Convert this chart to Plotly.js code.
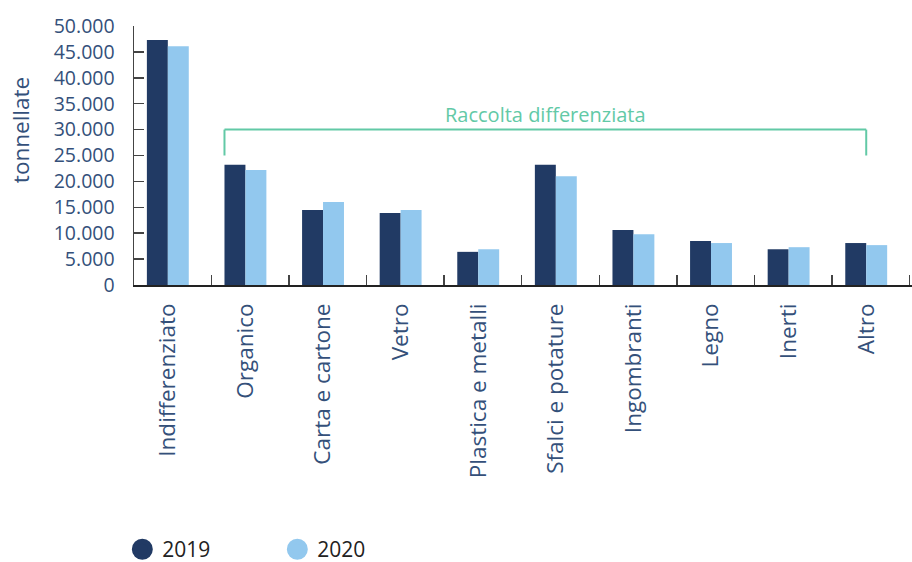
<!DOCTYPE html>
<html>
<head>
<meta charset="utf-8">
<script src="https://cdn.plot.ly/plotly-3.0.1.min.js"></script>
<style>html,body{margin:0;padding:0;background:#fff;}#chart{width:912px;height:562px;}</style>
</head>
<body>
<div id="chart"></div>
<script>
const categories = ["Indifferenziato","Organico","Carta e cartone","Vetro","Plastica e metalli","Sfalci e potature","Ingombranti","Legno","Inerti","Altro"];
const values2019 = [47300,23200,14500,13900,6400,23200,10600,8500,6900,8100];
const values2020 = [46100,22200,16000,14500,6900,21000,9800,8100,7300,7700];
const seriesNames = ["2019","2020"];
const bracketLabel = "Raccolta differenziata";
const yTitle = "tonnellate";

const navy = "#213a64", light = "#92c8ee", green = "#62c9a6", txt = "#34507a";
const idx = categories.map((c,i)=>i);
const fontFam = "'Open Sans', sans-serif";

const traces = [
  {type:"bar", x:idx, y:values2019, name:seriesNames[0], marker:{color:navy}, width:0.27, offset:-0.27, showlegend:false},
  {type:"bar", x:idx, y:values2020, name:seriesNames[1], marker:{color:light}, width:0.27, offset:0, showlegend:false},
  {type:"scatter", mode:"markers", x:[null], y:[null], name:seriesNames[0], marker:{color:navy, size:16, line:{color:navy,width:5}}},
  {type:"scatter", mode:"markers", x:[null], y:[null], name:seriesNames[1], marker:{color:light, size:16, line:{color:light,width:5}}}
];

const layout = {
  width:912, height:562,
  margin:{l:134, r:0, t:26, b:277, autoexpand:false},
  paper_bgcolor:"#fff", plot_bgcolor:"#fff",
  separators:",.",
  font:{family:fontFam, color:txt, size:19},
  showlegend:true,
  legend:{orientation:"h", x:-0.015, xanchor:"left", yref:"container", y:0.022, yanchor:"middle",
          font:{family:fontFam, size:21, color:"#222"}, itemwidth:30, tracegroupgap:0,
          entrywidth:110, entrywidthmode:"pixels"},
  xaxis:{range:[-0.436,9.59], tickmode:"array", tickvals:idx, ticktext:categories,
         tickangle:-90, ticks:"", showgrid:false, zeroline:false, ticklabelstandoff:8,
         showline:true, linecolor:"#222", linewidth:1.5,
         tickfont:{family:fontFam, size:22.5, color:txt},
         minor:{tick0:0.56, dtick:1, ticks:"inside", ticklen:10, tickwidth:1.5, tickcolor:"#444", showgrid:false}},
  yaxis:{range:[0,50000], dtick:5000, tickformat:",d", ticks:"inside", ticklen:10, tickwidth:1.5, tickcolor:"#444",
         showline:true, linecolor:"#444", linewidth:1.5, showgrid:false, zeroline:false,
         ticklabelstandoff:14, tickfont:{family:fontFam, size:19.5, color:txt}},
  shapes:[
    {type:"line", xref:"x", yref:"y", x0:0.73, x1:0.73, y0:25000, y1:30000, line:{color:green,width:2}},
    {type:"line", xref:"x", yref:"y", x0:0.73, x1:9.0, y0:30000, y1:30000, line:{color:green,width:2}},
    {type:"line", xref:"x", yref:"y", x0:9.0, x1:9.0, y0:25000, y1:30000, line:{color:green,width:2}}
  ],
  annotations:[
    {xref:"x", yref:"y", x:4.87, y:30000, text:bracketLabel, showarrow:false, yanchor:"bottom", yshift:0,
     font:{family:fontFam, size:20, color:green}},
    {xref:"paper", yref:"paper", x:-0.1465, y:0.598, text:yTitle, textangle:-90, showarrow:false,
     xanchor:"center", yanchor:"middle", font:{family:fontFam, size:22.5, color:txt}}
  ]
};

Plotly.newPlot("chart", traces, layout, {displayModeBar:false, staticPlot:true});
</script>
</body>
</html>
